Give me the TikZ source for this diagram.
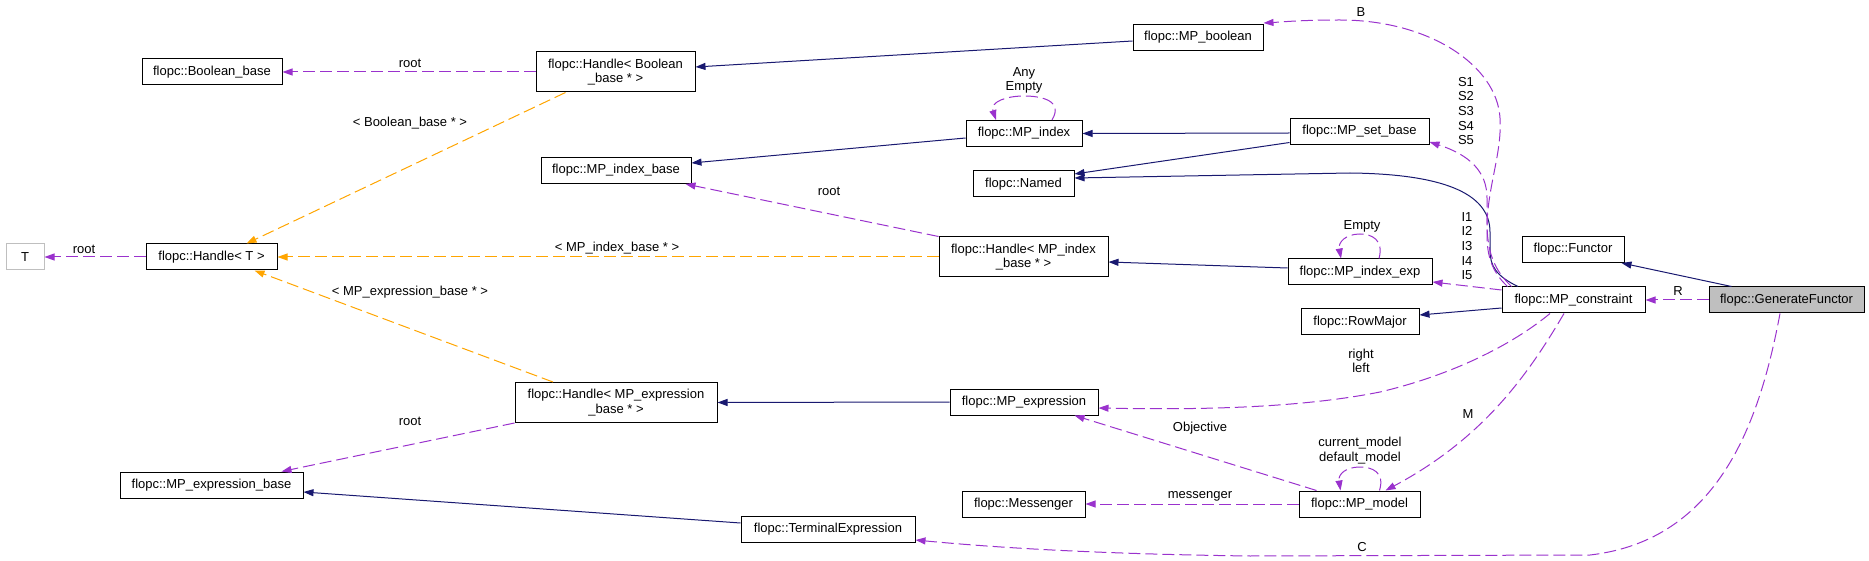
\documentclass[tikz,border=0pt]{standalone}
\usepackage{fontspec}
\setmainfont{Liberation Sans}
\usetikzlibrary{arrows.meta,calc}
\definecolor{navyc}{HTML}{191970}
\definecolor{orchidc}{HTML}{9A32CD}
\definecolor{orangec}{HTML}{FFA500}
\definecolor{greyc}{HTML}{BFBFBF}
\newcommand\dgfont{\fontsize{13}{14.7}\selectfont}
\tikzset{
  cls/.style={draw=black, line width=1pt, fill=white, inner sep=0pt, align=center, font=\dgfont, text=black},
  tipa/.style={-{Triangle[length=10pt,width=7pt]}},
  inh/.style={draw=navyc, line width=1pt, tipa},
  usearrow/.style={draw=orchidc, line width=1pt, dash pattern=on 12pt off 5pt, tipa},
  tmpl/.style={draw=orangec, line width=1pt, dash pattern=on 12pt off 5pt, tipa},
  lbl/.style={font=\dgfont, inner sep=0pt, align=center, text=black},
}
\begin{document}
\begin{tikzpicture}[x=1pt,y=-1pt]
\useasboundingbox (0,0) rectangle (1869,561);
% nodes
\node[cls, draw=greyc, minimum width=38pt, minimum height=26pt] (T) at (25,257) {T};
\node[cls, minimum width=140pt, minimum height=26pt] (bb) at (212,72) {flopc::Boolean\_base};
\node[cls, minimum width=131pt, minimum height=26pt] (hT) at (211.5,257) {flopc::Handle< T >};
\node[cls, minimum width=183pt, minimum height=26pt] (meb) at (211.5,485) {flopc::MP\_expression\_base};
\node[cls, minimum width=159pt, minimum height=40pt] (hB) at (615.5,72) {flopc::Handle< Boolean\\\_base * >};
\node[cls, minimum width=150pt, minimum height=26pt] (mib) at (616,170.5) {flopc::MP\_index\_base};
\node[cls, minimum width=202pt, minimum height=40pt] (hE) at (616,402.5) {flopc::Handle< MP\_expression\\\_base * >};
\node[cls, minimum width=174pt, minimum height=26pt] (te) at (828,529.5) {flopc::TerminalExpression};
\node[cls, minimum width=130pt, minimum height=26pt] (mb) at (1198,37.5) {flopc::MP\_boolean};
\node[cls, minimum width=116pt, minimum height=26pt] (mi) at (1024,133.5) {flopc::MP\_index};
\node[cls, minimum width=101pt, minimum height=26pt] (nm) at (1023.5,184) {flopc::Named};
\node[cls, minimum width=169pt, minimum height=40pt] (hI) at (1023.5,257) {flopc::Handle< MP\_index\\\_base * >};
\node[cls, minimum width=148pt, minimum height=26pt] (me) at (1024,402) {flopc::MP\_expression};
\node[cls, minimum width=123pt, minimum height=26pt] (ms) at (1023.5,504) {flopc::Messenger};
\node[cls, minimum width=139pt, minimum height=26pt] (sb) at (1359.5,131.5) {flopc::MP\_set\_base};
\node[cls, minimum width=144pt, minimum height=26pt] (ie) at (1360,272) {flopc::MP\_index\_exp};
\node[cls, minimum width=118pt, minimum height=26pt] (rm) at (1360,322) {flopc::RowMajor};
\node[cls, minimum width=121pt, minimum height=26pt] (mm) at (1359.5,504) {flopc::MP\_model};
\node[cls, minimum width=102pt, minimum height=26pt] (fu) at (1573,249.5) {flopc::Functor};
\node[cls, minimum width=143pt, minimum height=26pt] (mc) at (1573.5,300) {flopc::MP\_constraint};
\node[cls, fill=greyc, minimum width=155pt, minimum height=26pt] (gf) at (1786.5,300) {flopc::GenerateFunctor};

% inheritance edges
\draw[inh] ($(mb.west)+(0,3.5)$) -- ($(hB.east)+(0,-5)$);
\draw[inh] ($(mi.west)+(0,4.5)$) -- ($(mib.east)+(0,-7.5)$);
\draw[inh] ($(sb.west)+(0,1.5)$) -- (mi.east);
\draw[inh] ($(sb.west)+(0,11)$) -- ($(nm.east)+(0,-10)$);
\draw[inh] ($(mc.north)+(-55.5,0)$) .. controls (1496,276) and (1490,266) .. (1490,250) -- (1490,232) .. controls (1490,192) and (1440,174) .. (1350,173) -- ($(nm.east)+(0,-6)$);
\draw[inh] ($(ie.west)+(0,-4)$) -- ($(hI.east)+(0,5)$);
\draw[inh] ($(mc.west)+(0,8)$) -- ($(rm.east)+(0,-7)$);
\draw[inh] ($(gf.north west)+(23,0)$) -- ($(fu.south east)+(-3,0)$);
\draw[inh] (me.west) -- (hE.east);
\draw[inh] ($(te.west)+(0,-6.5)$) -- ($(meb.east)+(0,7)$);

% template edges
\draw[tmpl] ($(hB.south west)+(30,0)$) -- ($(hT.north)+(35,0)$) node[lbl] (l3) at (410,123) {< Boolean\_base * >};
\draw[tmpl] (hI.west) -- (hT.east) node[lbl] (l11) at (617,248) {< MP\_index\_base * >};
\draw[tmpl] ($(hE.north)+(-63,0)$) -- ($(hT.south)+(43,0)$) node[lbl] (l28) at (410,292) {< MP\_expression\_base * >};

% usage edges
\draw[usearrow] (hB.west) -- (bb.east) node[lbl] (l1) at (410,63) {root};
\draw[usearrow] (hT.west) -- (T.east) node[lbl] (l4) at (84,249) {root};
\draw[usearrow] (hI.north west) -- ($(mib.south east)+(-6,0)$) node[lbl] (l10) at (829,191) {root};
\draw[usearrow] (hE.south west) -- ($(meb.north)+(70,0)$) node[lbl] (l27) at (410,421) {root};
\draw[usearrow] ($(mi.north)+(28,0)$) .. controls (1064,100) and (1040,96) .. (1024,96) .. controls (1006,96) and (990,102) .. ($(mi.north)+(-28,0)$);
\node[lbl] (l6) at (1024,80.5) {Any\\Empty};
\draw[usearrow] ($(ie.north)+(19,0)$) .. controls (1384,240) and (1372,234) .. (1360,234) .. controls (1346,234) and (1338,242) .. ($(ie.north)+(-19,0)$);
\node[lbl] (l13) at (1362,226) {Empty};
\draw[usearrow] ($(mm.north)+(20,0)$) .. controls (1385,472) and (1372,467) .. (1360,467) .. controls (1346,467) and (1338,474) .. ($(mm.north)+(-19,0)$);
\node[lbl] (l25) at (1360,450.5) {current\_model\\default\_model};
\draw[usearrow] ($(mc.west)+(0,-10)$) -- ($(ie.east)+(0,10)$);
\node[lbl] (l14) at (1467,246) {I1\\I2\\I3\\I4\\I5};
\draw[usearrow] ($(mc.north west)+(6,0)$) .. controls (1492,272) and (1487,256) .. (1487,235) -- (1487,198) .. controls (1487,172) and (1470,155) .. ($(sb.south east)+(0,-3)$);
\node[lbl] (l15) at (1466,111) {S1\\S2\\S3\\S4\\S5};
\draw[usearrow] ($(mc.north west)+(10,0)$) .. controls (1494,270) and (1487,252) .. (1487,222) .. controls (1489,182) and (1502,152) .. (1500,118) .. controls (1497,66) and (1430,20) .. (1340,20) .. controls (1300,20) and (1282,22) .. ($(mb.north east)+(0,-1)$);
\node[lbl] (l16) at (1361,12) {B};
\draw[usearrow] ($(mc.south)+(-23.5,0)$) .. controls (1512,345) and (1452,375) .. (1380,392) .. controls (1300,408) and (1200,410) .. ($(me.east)+(0,6)$);
\node[lbl] (l17) at (1361,361) {right\\left};
\draw[usearrow] ($(mc.south)+(-9.5,0)$) .. controls (1525,380) and (1480,440) .. ($(mm.north)+(26,0)$);
\node[lbl] (l18) at (1468,414) {M};
\draw[usearrow] (gf.west) -- (mc.east) node[lbl] (l19) at (1678,291) {R};
\draw[usearrow] ($(gf.south)+(-6.5,0)$) .. controls (1760,420) and (1720,540) .. (1590,555) -- (1250,556) .. controls (1100,554) and (1000,548) .. ($(te.south east)+(0,-3)$);
\node[lbl] (l21) at (1362,547) {C};
\draw[usearrow] ($(mm.north west)+(18,0)$) -- ($(me.south east)+(-24,0)$);
\node[lbl] (l23) at (1200,428) {Objective};
\draw[usearrow] (mm.west) -- (ms.east) node[lbl] (l24) at (1200,496) {messenger};
\end{tikzpicture}
\end{document}
